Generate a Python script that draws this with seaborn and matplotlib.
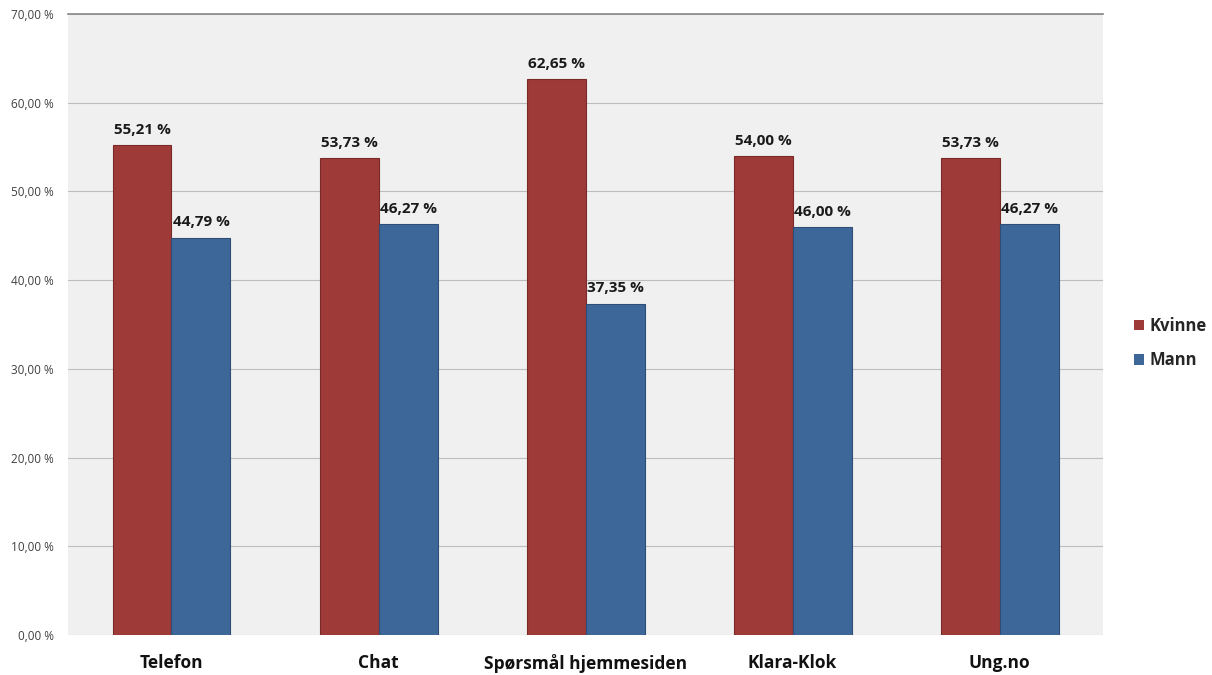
import matplotlib
matplotlib.use("Agg")
import matplotlib.pyplot as plt
import seaborn as sns
import pandas as pd
from matplotlib.ticker import FuncFormatter

categories = ["Telefon", "Chat", "Spørsmål hjemmesiden", "Klara-Klok", "Ung.no"]
kvinne = [55.21, 53.73, 62.65, 54.00, 53.73]
mann = [44.79, 46.27, 37.35, 46.00, 46.27]
series = ["Kvinne", "Mann"]

df = pd.DataFrame({
    "kategori": categories * 2,
    "andel": kvinne + mann,
    "kjonn": [series[0]] * len(categories) + [series[1]] * len(categories),
})

sns.set_theme(style="white")
plt.rcParams["font.family"] = ["Open Sans", "DejaVu Sans"]

fig = plt.figure(figsize=(12.12, 6.75), dpi=100)
ax = fig.add_axes([0.0561, 0.0593, 0.8540, 0.9200])
ax.set_facecolor("#F0F0F0")

palette = {"Kvinne": "#9E3A37", "Mann": "#3E6799"}
sns.barplot(data=df, x="kategori", y="andel", hue="kjonn", order=categories,
            hue_order=series, palette=palette, width=0.57, saturation=1,
            edgecolor="none", ax=ax, zorder=3)

# darker outline per series for a bevelled look
edge = {"Kvinne": "#7A2A28", "Mann": "#2D4E77"}
for cont, name in zip(ax.containers, series):
    for bar in cont.patches:
        bar.set_edgecolor(edge[name])
        bar.set_linewidth(0.8)
    ax.bar_label(cont, labels=[f"{v:.2f} %".replace(".", ",") for v in cont.datavalues],
                 padding=6, fontsize=11, fontweight="bold", color="#1a1a1a")

ax.set_ylim(0, 70)
ax.set_yticks(range(0, 71, 10))
ax.yaxis.set_major_formatter(FuncFormatter(lambda v, p: f"{v:.2f} %".replace(".", ",")))
ax.tick_params(axis="y", labelsize=8.5, colors="#404040", length=0, pad=10)
ax.tick_params(axis="x", labelsize=12.5, length=0, pad=14)
for lbl in ax.get_xticklabels():
    lbl.set_fontweight("bold")
    lbl.set_color("#111111")
ax.grid(axis="y", color="#BDBDBD", linewidth=0.8, zorder=0)
ax.set_axisbelow(True)
ax.set_xlabel("")
ax.set_ylabel("")
for s in ["left", "right", "bottom"]:
    ax.spines[s].set_visible(False)
ax.spines["top"].set_visible(True)
ax.spines["top"].set_color("#8C8C8C")

ax.legend(title=None, loc="center left", bbox_to_anchor=(1.015, 0.47), frameon=False,
          prop={"weight": "bold", "size": 12}, handlelength=0.6, handleheight=0.6,
          handletextpad=0.35, labelspacing=1.0)

fig.savefig("out.png", dpi=100, facecolor="white")
